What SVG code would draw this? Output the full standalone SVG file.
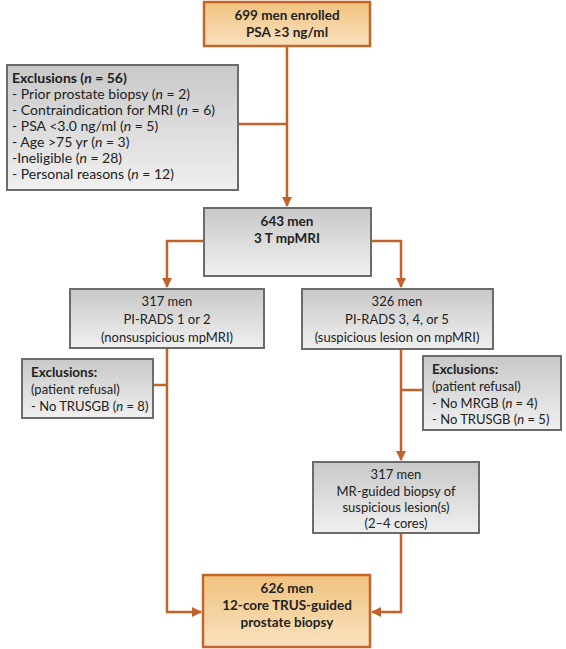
<svg xmlns="http://www.w3.org/2000/svg" width="566" height="649" viewBox="0 0 566 649">
<defs>
<linearGradient id="og" x1="0" y1="0" x2="0" y2="1"><stop offset="0" stop-color="#f0c27e"/><stop offset="1" stop-color="#fae2bf"/></linearGradient>
<linearGradient id="gg" x1="0" y1="0" x2="0" y2="1"><stop offset="0" stop-color="#c8c8c8"/><stop offset="1" stop-color="#f0f0f0"/></linearGradient>
<marker id="ah" viewBox="0 0 10 10" refX="9" refY="5" markerWidth="4" markerHeight="4" orient="auto" markerUnits="strokeWidth"><path d="M0,0 L10,5 L0,10 z" fill="#c0622b"/></marker>
<style>
.ob{fill:url(#og);stroke:#c5652a;stroke-width:2.5}
.gb{fill:url(#gg);stroke:#6b6b6b;stroke-width:2}
text{font-family:Lato,"Liberation Sans",sans-serif;font-size:13px;fill:#222}
.b{font-weight:bold;font-size:13.5px}
.c{text-anchor:middle}
.big{font-size:14px}
.ln{fill:none;stroke:#c0622b;stroke-width:2.5}
</style>
</defs>
<rect width="566" height="649" fill="#fff"/>
<g id="connectors">
<path class="ln" d="M287,46 V206" marker-end="url(#ah)"/>
<path class="ln" d="M238,124 H287"/>
<path class="ln" d="M204,241 H167 V287" marker-end="url(#ah)"/>
<path class="ln" d="M371,241 H401 V287" marker-end="url(#ah)"/>
<path class="ln" d="M167,348 V612 H201" marker-end="url(#ah)"/>
<path class="ln" d="M153,385 H167"/>
<path class="ln" d="M401,349 V460" marker-end="url(#ah)"/>
<path class="ln" d="M423,390 H401"/>
<path class="ln" d="M401,533 V612 H372" marker-end="url(#ah)"/>
</g>
<g id="n1"><rect class="ob" x="204" y="2" width="166" height="44"/>
<text class="b c" x="287" y="20">699 men enrolled</text>
<text class="b c" x="287" y="37">PSA ≥3 ng/ml</text></g>
<g id="n2"><rect class="gb" x="7" y="65" width="231" height="125"/>
<text x="12" y="83" class="b big">Exclusions (<tspan font-style="italic">n</tspan> = 56)</text>
<text x="12" y="99" class="big">- Prior prostate biopsy (<tspan font-style="italic">n</tspan> = 2)</text>
<text x="12" y="115" class="big">- Contraindication for MRI (<tspan font-style="italic">n</tspan> = 6)</text>
<text x="12" y="131" class="big">- PSA &lt;3.0 ng/ml (<tspan font-style="italic">n</tspan> = 5)</text>
<text x="12" y="147" class="big">- Age &gt;75 yr (<tspan font-style="italic">n</tspan> = 3)</text>
<text x="12" y="163" class="big">-Ineligible (<tspan font-style="italic">n</tspan> = 28)</text>
<text x="12" y="179" class="big">- Personal reasons (<tspan font-style="italic">n</tspan> = 12)</text></g>
<g id="n3"><rect class="gb" x="204" y="208" width="167" height="68"/>
<text class="b c" x="287" y="226">643 men</text>
<text class="b c" x="287" y="243">3 T mpMRI</text></g>
<g id="n4"><rect class="gb" x="70" y="289" width="194" height="59"/>
<text class="c" x="167" y="306">317 men</text>
<text class="c" x="167" y="324">PI-RADS 1 or 2</text>
<text class="c" x="167" y="342">(nonsuspicious mpMRI)</text></g>
<g id="n5"><rect class="gb" x="302" y="289" width="191" height="60"/>
<text class="c" x="397" y="306">326 men</text>
<text class="c" x="397" y="324">PI-RADS 3, 4, or 5</text>
<text class="c" x="397" y="342">(suspicious lesion on mpMRI)</text></g>
<g id="n6"><rect class="gb" x="22" y="359" width="131" height="59"/>
<text class="b" x="31" y="377">Exclusions:</text>
<text x="31" y="394">(patient refusal)</text>
<text x="31" y="411">- No TRUSGB (<tspan font-style="italic">n</tspan> = 8)</text></g>
<g id="n7"><rect class="gb" x="423" y="356" width="138" height="74"/>
<text class="b" x="432" y="374">Exclusions:</text>
<text x="432" y="391">(patient refusal)</text>
<text x="432" y="408">- No MRGB (<tspan font-style="italic">n</tspan> = 4)</text>
<text x="432" y="424">- No TRUSGB (<tspan font-style="italic">n</tspan> = 5)</text></g>
<g id="n8"><rect class="gb" x="313" y="462" width="166" height="71"/>
<text class="c" x="396" y="479">317 men</text>
<text class="c" x="396" y="496">MR-guided biopsy of</text>
<text class="c" x="396" y="512">suspicious lesion(s)</text>
<text class="c" x="396" y="528">(2–4 cores)</text></g>
<g id="n9"><rect class="ob" x="203" y="575" width="167" height="72"/>
<text class="b c" x="287" y="593">626 men</text>
<text class="b c" x="287" y="610">12-core TRUS-guided</text>
<text class="b c" x="287" y="627">prostate biopsy</text></g>
</svg>
